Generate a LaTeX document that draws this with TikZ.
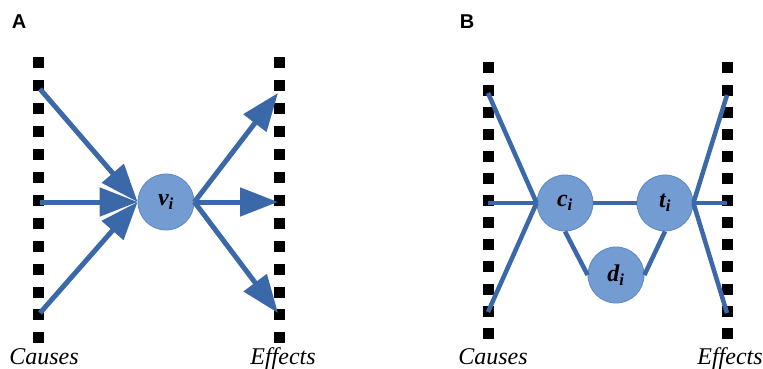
\documentclass[tikz,border=0pt]{standalone}
\usepackage{fontspec}
\setmainfont{Liberation Serif}
\setsansfont{Liberation Sans}
\usetikzlibrary{arrows.meta}
\definecolor{linkblue}{RGB}{58,104,168}
\definecolor{nodefill}{RGB}{114,156,210}
\definecolor{nodeedge}{RGB}{92,136,196}
\tikzset{
  unit/.style={circle, fill=nodefill, draw=nodeedge, line width=0.8pt,
    minimum size=56pt, inner sep=0pt, font=\fontsize{24}{24}\selectfont\bfseries\itshape},
  bigarrow/.style={draw=linkblue, line width=5pt,
    -{Triangle[length=38pt,width=28pt]}},
  link/.style={draw=linkblue, line width=4.5pt},
  axislabel/.style={font=\fontsize{24}{24}\selectfont\itshape, anchor=base},
  panel/.style={font=\fontsize{20}{20}\selectfont\sffamily\bfseries}
}
\begin{document}
\begin{tikzpicture}[x=1pt,y=-1pt]
\useasboundingbox (0,0) rectangle (763,369);

% ---------- panel A ----------
\node[panel] (labA) at (19,22) {A};
\foreach \k in {0,...,12}{
  \fill (38.5-5.5,63+22.9*\k-5.5) rectangle ++(11,11);
  \fill (279-5.5,63+22.9*\k-5.5) rectangle ++(11,11);
}
\node[unit] (v) at (166,202) {v\textsubscript{i}};
\coordinate (ca1) at (40,89);
\coordinate (ca2) at (40,202);
\coordinate (ca3) at (40,313);
\coordinate (ea1) at (278,93);
\coordinate (ea2) at (278,202);
\coordinate (ea3) at (278,313);
\draw[bigarrow] (ca1) -- (v.west);
\draw[bigarrow] (ca2) -- (v.west);
\draw[bigarrow] (ca3) -- (v.west);
\draw[bigarrow] (v.east) -- (ea1);
\draw[bigarrow] (v.east) -- (ea2);
\draw[bigarrow] (v.east) -- (ea3);
\node[axislabel] (causesA) at (44,364) {Causes};
\node[axislabel] (effectsA) at (283,364) {Effects};

% ---------- panel B ----------
\node[panel] (labB) at (467,22) {B};
\foreach \k in {0,...,12}{
  \fill (488-5.5,68+22.1*\k-5.5) rectangle ++(11,11);
  \fill (727-5.5,68+22.1*\k-5.5) rectangle ++(11,11);
}
\node[unit] (c) at (565,203) {c\textsubscript{i}};
\node[unit] (t) at (665,203) {t\textsubscript{i}};
\node[unit] (d) at (616,275) {d\textsubscript{i}};
\coordinate (cb1) at (488,93);
\coordinate (cb2) at (488,203);
\coordinate (cb3) at (488,312);
\coordinate (eb1) at (727,95);
\coordinate (eb2) at (727,203);
\coordinate (eb3) at (727,313);
\draw[link] (cb1) -- (c.west);
\draw[link] (cb2) -- (c.west);
\draw[link] (cb3) -- (c.west);
\draw[link] (c.east) -- (t.west);
\draw[link] (c.south) -- (d.west);
\draw[link] (t.south) -- (d.east);
\draw[link] (t.east) -- (eb1);
\draw[link] (t.east) -- (eb2);
\draw[link] (t.east) -- (eb3);
\node[axislabel] (causesB) at (493,364) {Causes};
\node[axislabel] (effectsB) at (730,364) {Effects};
\end{tikzpicture}
\end{document}
